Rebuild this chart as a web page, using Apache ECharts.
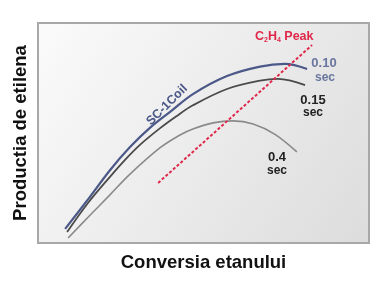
<!DOCTYPE html>
<html><head><meta charset="utf-8">
<script src="https://cdn.jsdelivr.net/npm/echarts@6/dist/echarts.min.js"></script>
<style>html,body{margin:0;padding:0;background:#fff}#c{width:392px;height:281px}</style>
</head><body><div id="c"></div>
<script>
// Conversion (x) and ethylene yield (y), relative units 0..100
const x010 = [8.2, 15.1, 21.8, 27.8, 33.8, 39.9, 46.8, 57.1, 67.1, 74.6, 81.3];
const y010 = [6.4, 19.8, 33.2, 43.6, 52.3, 59.6, 67.7, 75.9, 80.2, 81.4, 79.1];
const x015 = [8.8, 15.1, 21.8, 26.3, 30.8, 36.9, 41.7, 46.8, 57.1, 67.1, 72.5, 80.7];
const y015 = [5.0, 18.2, 30.2, 37.8, 44.6, 52.2, 57.5, 62.6, 70.0, 73.8, 74.6, 71.8];
const x04 = [9.1, 15.7, 21.8, 27.8, 36.9, 42.9, 46.8, 52.9, 58.9, 65.0, 71.6, 78.2];
const y04 = [2.3, 12.6, 22.0, 31.3, 43.3, 49.1, 51.8, 54.6, 55.5, 54.1, 49.4, 41.4];
const xPeak = [36.3, 82.8];
const yPeak = [27.3, 90.0];
const seriesNames = ['0.10 sec', '0.15 sec', '0.4 sec', 'C2H4 Peak'];

const pairs = (xs, ys) => xs.map((v, i) => [v, ys[i]]);
const font = '"Liberation Sans", Arial, sans-serif';
const chart = echarts.init(document.getElementById('c'));
chart.setOption({
  animation: false,
  grid: {
    left: 38, top: 23, right: 23, bottom: 38, show: true,
    borderColor: '#a8a8a8', borderWidth: 2,
    backgroundColor: {
      type: 'linear', x: 0, y: 0, x2: 1, y2: 1,
      colorStops: [{ offset: 0, color: '#fbfbfb' }, { offset: 1, color: '#dcdcdc' }]
    }
  },
  xAxis: {
    type: 'value', min: 0, max: 100,
    name: 'Conversia etanului', nameLocation: 'middle', nameGap: 10,
    nameTextStyle: { fontFamily: font, fontWeight: 'bold', fontSize: 18.5, color: '#111' },
    axisLine: { show: false }, axisTick: { show: false }, axisLabel: { show: false }, splitLine: { show: false }
  },
  yAxis: {
    type: 'value', min: 0, max: 100,
    name: 'Productia de etilena', nameLocation: 'middle', nameGap: 8,
    nameTextStyle: { fontFamily: font, fontWeight: 'bold', fontSize: 18.5, color: '#111' },
    axisLine: { show: false }, axisTick: { show: false }, axisLabel: { show: false }, splitLine: { show: false }
  },
  series: [
    { name: seriesNames[0], type: 'line', smooth: 0.35, showSymbol: false, data: pairs(x010, y010),
      lineStyle: { color: '#4b5888', width: 2.2 } },
    { name: seriesNames[1], type: 'line', smooth: 0.35, showSymbol: false, data: pairs(x015, y015),
      lineStyle: { color: '#4a4a4a', width: 1.8 } },
    { name: seriesNames[2], type: 'line', smooth: 0.35, showSymbol: false, data: pairs(x04, y04),
      lineStyle: { color: '#8a8a8a', width: 1.6 } },
    { name: seriesNames[3], type: 'line', showSymbol: false, data: pairs(xPeak, yPeak),
      lineStyle: { color: '#e0284a', width: 2, type: [3, 2] } }
  ],
  graphic: [
    { type: 'text', left: 255, top: 30, style: { rich: { a: { fontFamily: font, fontWeight: 'bold', fontSize: 12.5, fill: '#e0284a' }, s: { fontFamily: font, fontWeight: 'bold', fontSize: 7, fill: '#e0284a', padding: [8, 0, 0, 0] } }, text: '{a|C}{s|2}{a|H}{s|4}{a| Peak}' } },
    { type: 'text', x: 324, y: 63, style: { text: '0.10', fontFamily: font, fontWeight: 'bold', fontSize: 13, fill: '#6a769e', align: 'center', verticalAlign: 'middle' } },
    { type: 'text', x: 325, y: 78, style: { text: 'sec', fontFamily: font, fontWeight: 'bold', fontSize: 12, fill: '#6a769e', align: 'center', verticalAlign: 'middle' } },
    { type: 'text', x: 313, y: 100, style: { text: '0.15', fontFamily: font, fontWeight: 'bold', fontSize: 13, fill: '#222', align: 'center', verticalAlign: 'middle' } },
    { type: 'text', x: 313, y: 113, style: { text: 'sec', fontFamily: font, fontWeight: 'bold', fontSize: 12, fill: '#222', align: 'center', verticalAlign: 'middle' } },
    { type: 'text', x: 277, y: 157, style: { text: '0.4', fontFamily: font, fontWeight: 'bold', fontSize: 13, fill: '#222', align: 'center', verticalAlign: 'middle' } },
    { type: 'text', x: 277, y: 171, style: { text: 'sec', fontFamily: font, fontWeight: 'bold', fontSize: 12, fill: '#222', align: 'center', verticalAlign: 'middle' } },
    { type: 'text', x: 167, y: 105, rotation: 0.78, style: { text: 'SC-1Coil', fontFamily: font, fontWeight: 'bold', fontSize: 12.5, fill: '#4b5888', align: 'center', verticalAlign: 'middle' } }
  ]
});
</script></body></html>
